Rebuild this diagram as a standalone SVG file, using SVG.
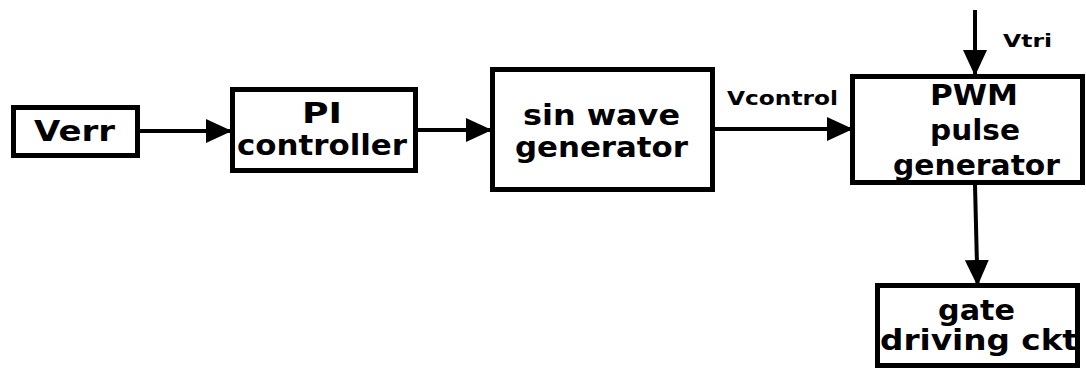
<svg xmlns="http://www.w3.org/2000/svg" width="1086" height="373" viewBox="0 0 1086 373">
<style>
.box{fill:#fff;stroke:#000;stroke-width:5}
.t{font-family:"DejaVu Sans","Verdana",sans-serif;font-weight:bold;fill:#000;text-anchor:middle}
.big{font-size:28px}
.lbl{font-size:19px}
.wire{stroke:#000;stroke-width:4;fill:none}
</style>
<defs>
<marker id="ah" markerUnits="userSpaceOnUse" markerWidth="26" markerHeight="24" refX="25" refY="12" orient="auto">
<path d="M0,0 L26,12 L0,24 z" fill="#000"/>
</marker>
</defs>
<rect width="1086" height="373" fill="#fff"/>
<g id="connectors">
<line class="wire" x1="140" y1="131" x2="231" y2="131" marker-end="url(#ah)"/>
<line class="wire" x1="418" y1="130" x2="491" y2="130" marker-end="url(#ah)"/>
<line class="wire" x1="715" y1="129" x2="852" y2="129" marker-end="url(#ah)"/>
<line class="wire" x1="975" y1="10" x2="975" y2="75" marker-end="url(#ah)"/>
<line class="wire" x1="975" y1="185" x2="977.5" y2="285" marker-end="url(#ah)"/>
<text class="t lbl" x="782.5" y="105" textLength="111" lengthAdjust="spacingAndGlyphs">Vcontrol</text>
<text class="t" style="font-size:17px" x="1027.5" y="47" textLength="49" lengthAdjust="spacingAndGlyphs">Vtri</text>
</g>
<g id="verr">
<rect class="box" x="13.5" y="107.5" width="124" height="48"/>
<text class="t big" x="74.5" y="141" textLength="81" lengthAdjust="spacingAndGlyphs">Verr</text>
</g>
<g id="pi">
<rect class="box" x="232.5" y="89.5" width="183" height="81"/>
<text class="t big" x="322" y="123" textLength="40" lengthAdjust="spacingAndGlyphs">PI</text>
<text class="t big" x="322" y="155" textLength="170" lengthAdjust="spacingAndGlyphs">controller</text>
</g>
<g id="sin">
<rect class="box" x="492.5" y="69.5" width="220" height="120"/>
<text class="t big" x="601.5" y="125" textLength="157" lengthAdjust="spacingAndGlyphs">sin wave</text>
<text class="t big" x="601.5" y="157" textLength="173" lengthAdjust="spacingAndGlyphs">generator</text>
</g>
<g id="pwm">
<rect class="box" x="852.5" y="76.5" width="230" height="106"/>
<text class="t big" x="974" y="105" textLength="88" lengthAdjust="spacingAndGlyphs">PWM</text>
<text class="t big" x="975" y="140" textLength="90" lengthAdjust="spacingAndGlyphs">pulse</text>
<text class="t big" x="976.5" y="175" textLength="167" lengthAdjust="spacingAndGlyphs">generator</text>
</g>
<g id="gate">
<rect class="box" x="877.5" y="285.5" width="200" height="80"/>
<text class="t big" x="976.5" y="320" textLength="77" lengthAdjust="spacingAndGlyphs">gate</text>
<text class="t big" x="979" y="350" textLength="198" lengthAdjust="spacingAndGlyphs">driving ckt</text>
</g>
</svg>
